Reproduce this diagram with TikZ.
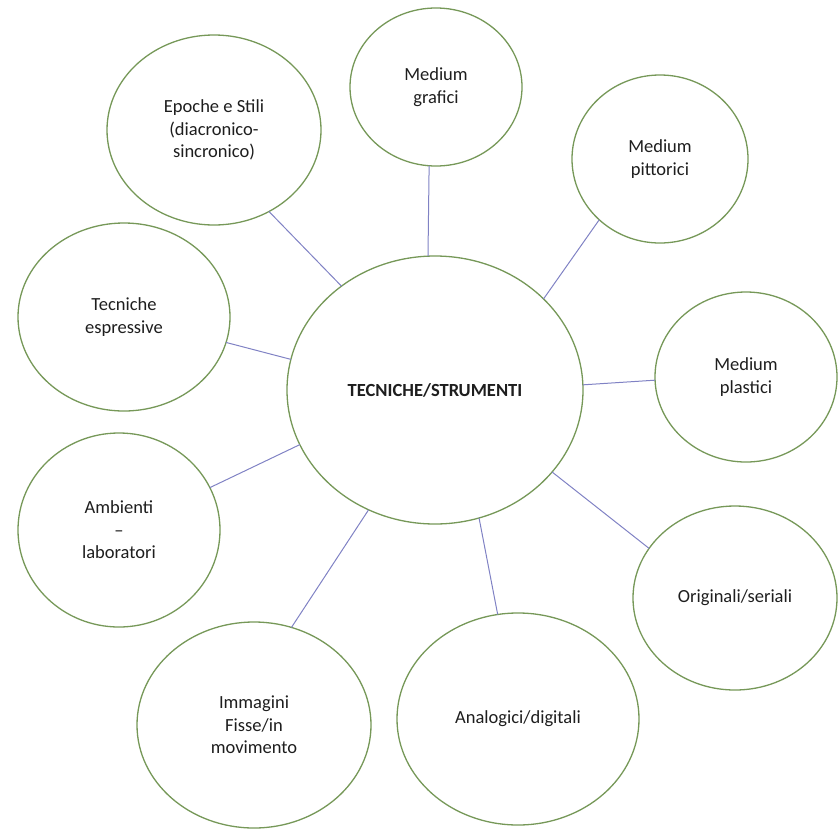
\documentclass[tikz,border=0pt]{standalone}
\usepackage{fontspec}
\setmainfont{Carlito}
\usetikzlibrary{shapes.geometric}
\definecolor{bordergreen}{RGB}{118,152,88}
\definecolor{linkblue}{RGB}{128,130,196}
\definecolor{txtcol}{RGB}{30,30,30}
\begin{document}
\begin{tikzpicture}[x=1pt,y=-1pt,
  bubble/.style={ellipse, draw=bordergreen, line width=1.3pt, fill=white, inner sep=0pt, outer sep=0pt, align=center, text=txtcol, font=\fontsize{18.5}{22.5}\selectfont},
  link/.style={draw=linkblue, line width=1pt}]
\useasboundingbox (0,0) rectangle (838,828);
\node[bubble, minimum width=296pt, minimum height=268pt, font=\fontsize{18.5}{22.5}\selectfont\bfseries] (c) at (435,390) {TECNICHE/STRUMENTI};
\node[bubble, minimum width=214pt, minimum height=190pt] (epo) at (214,130) {Epoche e Stili\\(diacronico-\\sincronico)};
\node[bubble, minimum width=172pt, minimum height=158pt] (gra) at (436,87) {Medium\\grafici};
\node[bubble, minimum width=176pt, minimum height=168pt] (pit) at (660,159) {Medium\\pittorici};
\node[bubble, minimum width=182pt, minimum height=170pt] (pla) at (746,377) {Medium\\plastici};
\node[bubble, minimum width=204pt, minimum height=184pt] (ori) at (735,598) {Originali/seriali};
\node[bubble, minimum width=242pt, minimum height=212pt] (ana) at (518,719) {Analogici/digitali};
\node[bubble, minimum width=234pt, minimum height=206pt] (imm) at (254,725) {Immagini\\Fisse/in\\movimento};
\node[bubble, minimum width=202pt, minimum height=194pt] (amb) at (119,530) {Ambienti\\--\\laboratori};
\node[bubble, minimum width=212pt, minimum height=188pt] (tec) at (124,317) {Tecniche\\espressive};
\draw[link] (c.132.1) -- (epo.304.3);
\draw[link] (c.93.4) -- (gra.265.6);
\draw[link] (c.40.7) -- (pit.225.4);
\draw[link] (c.2.7) -- (pla.182.5);
\draw[link] (c.-35.8) -- (ori.150.9);
\draw[link] (c.-71.7) -- (ana.101.7);
\draw[link] (c.241.4) -- (imm.69.7);
\draw[link] (c.202.4) -- (amb.25.3);
\draw[link] (c.168.5) -- (tec.-14.6);
\end{tikzpicture}
\end{document}
